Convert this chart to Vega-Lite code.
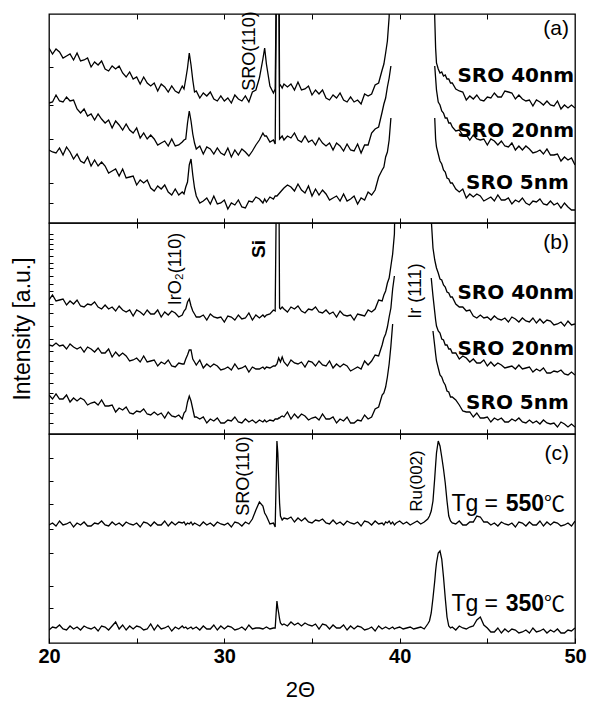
{
  "$schema": "https://vega.github.io/schema/vega-lite/v6.json",
  "padding": {"left": 10, "top": 10, "right": 12, "bottom": 1},
  "background": "white",
  "config": {
    "font": "Liberation Sans",
    "view": {"stroke": "black", "strokeWidth": 1.3},
    "axis": {"domain": false, "grid": false, "tickColor": "black", "tickWidth": 1, "labelColor": "black", "titleColor": "black"}
  },
  "datasets": {
    "spectra": [
      {"x":20.0,"a40":175,"a20":120,"a5":73,"b40":134,"b20":89,"b5":39,"c550":118,"c350":13},
      {"x":20.2,"a40":169,"a20":121,"a5":71,"b40":139,"b20":88,"b5":35,"c550":120,"c350":16},
      {"x":20.4,"a40":174,"a20":128,"a5":70,"b40":133,"b20":91,"b5":40,"c550":117,"c350":15},
      {"x":20.6,"a40":171,"a20":122,"a5":75,"b40":134,"b20":88,"b5":35,"c550":122,"c350":18},
      {"x":20.8,"a40":165,"a20":121,"a5":68,"b40":135,"b20":89,"b5":35,"c550":118,"c350":14},
      {"x":21.0,"a40":167,"a20":126,"a5":76,"b40":129,"b20":85,"b5":39,"c550":119,"c350":13},
      {"x":21.2,"a40":169,"a20":122,"a5":71,"b40":133,"b20":90,"b5":32,"c550":121,"c350":17},
      {"x":21.4,"a40":163,"a20":123,"a5":64,"b40":130,"b20":87,"b5":36,"c550":116,"c350":14},
      {"x":21.6,"a40":170,"a20":114,"a5":69,"b40":134,"b20":85,"b5":33,"c550":120,"c350":16},
      {"x":21.8,"a40":162,"a20":110,"a5":62,"b40":128,"b20":87,"b5":36,"c550":118,"c350":13},
      {"x":22.0,"a40":163,"a20":114,"a5":60,"b40":127,"b20":82,"b5":34,"c550":121,"c350":17},
      {"x":22.2,"a40":165,"a20":107,"a5":66,"b40":130,"b20":87,"b5":29,"c550":117,"c350":15},
      {"x":22.4,"a40":156,"a20":109,"a5":57,"b40":129,"b20":85,"b5":31,"c550":117,"c350":14},
      {"x":22.6,"a40":161,"a20":103,"a5":63,"b40":132,"b20":82,"b5":32,"c550":120,"c350":16},
      {"x":22.8,"a40":158,"a20":109,"a5":57,"b40":127,"b20":86,"b5":29,"c550":119,"c350":12},
      {"x":23.0,"a40":162,"a20":104,"a5":61,"b40":125,"b20":81,"b5":34,"c550":122,"c350":17},
      {"x":23.2,"a40":154,"a20":100,"a5":57,"b40":129,"b20":81,"b5":28,"c550":118,"c350":16},
      {"x":23.4,"a40":152,"a20":103,"a5":50,"b40":125,"b20":85,"b5":28,"c550":117,"c350":13},
      {"x":23.6,"a40":157,"a20":95,"a5":52,"b40":127,"b20":77,"b5":29,"c550":121,"c350":17},
      {"x":23.8,"a40":154,"a20":102,"a5":54,"b40":123,"b20":82,"b5":22,"c550":118,"c350":21},
      {"x":24.0,"a40":157,"a20":98,"a5":47,"b40":128,"b20":78,"b5":26,"c550":120,"c350":14},
      {"x":24.2,"a40":150,"a20":93,"a5":54,"b40":124,"b20":81,"b5":24,"c550":117,"c350":18},
      {"x":24.4,"a40":146,"a20":99,"a5":45,"b40":122,"b20":78,"b5":27,"c550":121,"c350":13},
      {"x":24.6,"a40":151,"a20":93,"a5":46,"b40":124,"b20":73,"b5":21,"c550":119,"c350":17},
      {"x":24.8,"a40":144,"a20":90,"a5":47,"b40":118,"b20":74,"b5":20,"c550":118,"c350":14},
      {"x":25.0,"a40":146,"a20":95,"a5":38,"b40":124,"b20":76,"b5":23,"c550":120,"c350":17},
      {"x":25.2,"a40":139,"a20":85,"a5":43,"b40":122,"b20":72,"b5":22,"c550":116,"c350":16},
      {"x":25.4,"a40":146,"a20":90,"a5":40,"b40":119,"b20":78,"b5":25,"c550":121,"c350":13},
      {"x":25.6,"a40":140,"a20":84,"a5":43,"b40":124,"b20":72,"b5":20,"c550":120,"c350":14},
      {"x":25.8,"a40":137,"a20":88,"a5":35,"b40":120,"b20":73,"b5":19,"c550":117,"c350":19},
      {"x":26.0,"a40":140,"a20":84,"a5":32,"b40":120,"b20":74,"b5":22,"c550":121,"c350":13},
      {"x":26.2,"a40":132,"a20":78,"a5":37,"b40":124,"b20":68,"b5":19,"c550":118,"c350":18},
      {"x":26.4,"a40":139,"a20":80,"a5":34,"b40":117,"b20":72,"b5":21,"c550":118,"c350":14},
      {"x":26.6,"a40":136,"a20":82,"a5":38,"b40":122,"b20":70,"b5":16,"c550":122,"c350":15},
      {"x":26.8,"a40":131,"a20":77,"a5":31,"b40":119,"b20":74,"b5":22,"c550":117,"c350":17},
      {"x":27.0,"a40":137,"a20":84,"a5":28,"b40":123,"b20":68,"b5":18,"c550":121,"c350":12},
      {"x":27.2,"a40":132,"a20":77,"a5":34,"b40":121,"b20":67,"b5":17,"c550":118,"c350":16},
      {"x":27.4,"a40":130,"a20":78,"a5":28,"b40":117,"b20":71,"b5":19,"c550":121,"c350":14},
      {"x":27.6,"a40":137,"a20":81,"a5":31,"b40":119,"b20":70,"b5":15,"c550":120,"c350":17},
      {"x":27.7,"a40":134,"a20":83,"a5":29,"b40":123,"b20":70,"b5":21,"c550":121,"c350":15},
      {"x":27.8,"a40":144,"a20":84,"a5":36,"b40":125,"b20":75,"b5":23,"c550":118,"c350":16},
      {"x":27.9,"a40":155,"a20":100,"a5":41,"b40":132,"b20":79,"b5":32,"c550":120,"c350":14},
      {"x":28.0,"a40":170,"a20":112,"a5":58,"b40":135,"b20":84,"b5":38,"c550":119,"c350":15},
      {"x":28.1,"a40":158,"a20":102,"a5":64,"b40":128,"b20":84,"b5":33,"c550":121,"c350":16},
      {"x":28.2,"a40":143,"a20":89,"a5":48,"b40":123,"b20":75,"b5":25,"c550":118,"c350":14},
      {"x":28.3,"a40":131,"a20":80,"a5":35,"b40":120,"b20":72,"b5":17,"c550":120,"c350":15},
      {"x":28.4,"a40":132,"a20":74,"a5":27,"b40":117,"b20":69,"b5":17,"c550":119,"c350":16},
      {"x":28.6,"a40":125,"a20":77,"a5":20,"b40":117,"b20":74,"b5":15,"c550":117,"c350":13},
      {"x":28.8,"a40":130,"a20":69,"a5":22,"b40":119,"b20":66,"b5":17,"c550":121,"c350":17},
      {"x":29.0,"a40":127,"a20":76,"a5":25,"b40":114,"b20":70,"b5":11,"c550":118,"c350":14},
      {"x":29.2,"a40":131,"a20":74,"a5":19,"b40":120,"b20":67,"b5":15,"c550":120,"c350":14},
      {"x":29.4,"a40":124,"a20":69,"a5":27,"b40":117,"b20":70,"b5":13,"c550":117,"c350":18},
      {"x":29.6,"a40":122,"a20":75,"a5":19,"b40":116,"b20":68,"b5":16,"c550":121,"c350":13},
      {"x":29.8,"a40":127,"a20":70,"a5":20,"b40":117,"b20":64,"b5":11,"c550":119,"c350":17},
      {"x":30.0,"a40":122,"a20":68,"a5":23,"b40":112,"b20":65,"b5":11,"c550":118,"c350":14},
      {"x":30.2,"a40":125,"a20":75,"a5":14,"b40":118,"b20":67,"b5":14,"c550":120,"c350":17},
      {"x":30.4,"a40":120,"a20":66,"a5":20,"b40":117,"b20":64,"b5":13,"c550":116,"c350":16},
      {"x":30.6,"a40":128,"a20":73,"a5":18,"b40":114,"b20":70,"b5":17,"c550":121,"c350":13},
      {"x":30.8,"a40":124,"a20":68,"a5":23,"b40":119,"b20":65,"b5":12,"c550":120,"c350":14},
      {"x":31.0,"a40":122,"a20":74,"a5":16,"b40":115,"b20":66,"b5":11,"c550":117,"c350":16},
      {"x":31.2,"a40":127,"a20":71,"a5":15,"b40":116,"b20":68,"b5":15,"c550":121,"c350":13},
      {"x":31.4,"a40":121,"a20":67,"a5":22,"b40":121,"b20":62,"b5":12,"c550":119,"c350":18},
      {"x":31.6,"a40":131,"a20":72,"a5":21,"b40":114,"b20":67,"b5":14,"c550":124,"c350":14},
      {"x":31.8,"a40":133,"a20":78,"a5":26,"b40":119,"b20":65,"b5":11,"c550":133,"c350":15},
      {"x":32.0,"a40":145,"a20":83,"a5":24,"b40":116,"b20":65,"b5":14,"c550":141,"c350":15},
      {"x":32.2,"a40":164,"a20":90,"a5":20,"b40":119,"b20":67,"b5":12,"c550":137,"c350":14},
      {"x":32.3,"a40":175,"a20":87,"a5":24,"b40":117,"b20":65,"b5":14,"c550":130,"c350":15},
      {"x":32.4,"a40":159,"a20":87,"a5":21,"b40":119,"b20":67,"b5":12,"c550":127,"c350":16},
      {"x":32.6,"a40":137,"a20":81,"a5":26,"b40":120,"b20":66,"b5":14,"c550":119,"c350":14},
      {"x":32.8,"a40":130,"a20":83,"a5":24,"b40":124,"b20":68,"b5":13,"c550":120,"c350":15},
      {"x":32.9,"a40":134,"a20":79,"a5":27,"b40":123,"b20":68,"b5":15,"c550":116,"c350":15},
      {"x":33.0,"a40":300,"a20":300,"a5":27,"b40":300,"b20":70,"b5":15,"c550":202,"c350":42},
      {"x":33.05,"a40":300,"a20":300,"a5":28,"b40":300,"b20":73,"b5":15,"c550":190,"c350":35},
      {"x":33.1,"a40":300,"a20":300,"a5":29,"b40":300,"b20":76,"b5":16,"c550":165,"c350":30},
      {"x":33.15,"a40":137,"a20":84,"a5":30,"b40":126,"b20":74,"b5":16,"c550":140,"c350":24},
      {"x":33.2,"a40":138,"a20":85,"a5":31,"b40":125,"b20":72,"b5":17,"c550":127,"c350":20},
      {"x":33.3,"a40":135,"a20":87,"a5":33,"b40":127,"b20":77,"b5":18,"c550":123,"c350":18},
      {"x":33.4,"a40":139,"a20":83,"a5":35,"b40":125,"b20":72,"b5":17,"c550":125,"c350":19},
      {"x":33.6,"a40":136,"a20":87,"a5":38,"b40":122,"b20":68,"b5":22,"c550":124,"c350":17},
      {"x":33.8,"a40":139,"a20":85,"a5":36,"b40":127,"b20":74,"b5":15,"c550":126,"c350":21},
      {"x":34.0,"a40":133,"a20":90,"a5":32,"b40":125,"b20":71,"b5":20,"c550":121,"c350":18},
      {"x":34.2,"a40":141,"a20":83,"a5":39,"b40":128,"b20":70,"b5":16,"c550":125,"c350":20},
      {"x":34.4,"a40":133,"a20":81,"a5":33,"b40":123,"b20":72,"b5":20,"c550":122,"c350":17},
      {"x":34.6,"a40":134,"a20":87,"a5":30,"b40":121,"b20":67,"b5":18,"c550":125,"c350":20},
      {"x":34.8,"a40":137,"a20":81,"a5":37,"b40":125,"b20":73,"b5":14,"c550":121,"c350":18},
      {"x":35.0,"a40":128,"a20":83,"a5":27,"b40":124,"b20":72,"b5":16,"c550":120,"c350":17},
      {"x":35.2,"a40":133,"a20":78,"a5":34,"b40":127,"b20":68,"b5":17,"c550":123,"c350":19},
      {"x":35.4,"a40":129,"a20":85,"a5":28,"b40":122,"b20":73,"b5":14,"c550":122,"c350":14},
      {"x":35.6,"a40":133,"a20":80,"a5":33,"b40":121,"b20":69,"b5":20,"c550":124,"c350":19},
      {"x":35.8,"a40":125,"a20":77,"a5":29,"b40":124,"b20":68,"b5":15,"c550":120,"c350":18},
      {"x":36.0,"a40":123,"a20":80,"a5":23,"b40":120,"b20":73,"b5":15,"c550":119,"c350":14},
      {"x":36.2,"a40":128,"a20":73,"a5":25,"b40":122,"b20":66,"b5":17,"c550":123,"c350":18},
      {"x":36.4,"a40":125,"a20":80,"a5":27,"b40":117,"b20":70,"b5":11,"c550":119,"c350":15},
      {"x":36.6,"a40":130,"a20":77,"a5":22,"b40":123,"b20":67,"b5":15,"c550":121,"c350":15},
      {"x":36.8,"a40":123,"a20":72,"a5":29,"b40":119,"b20":70,"b5":13,"c550":118,"c350":18},
      {"x":37.0,"a40":121,"a20":79,"a5":22,"b40":118,"b20":68,"b5":17,"c550":122,"c350":13},
      {"x":37.2,"a40":126,"a20":73,"a5":24,"b40":119,"b20":63,"b5":11,"c550":120,"c350":17},
      {"x":37.4,"a40":121,"a20":72,"a5":27,"b40":114,"b20":65,"b5":11,"c550":119,"c350":14},
      {"x":37.6,"a40":123,"a20":79,"a5":19,"b40":120,"b20":67,"b5":14,"c550":121,"c350":17},
      {"x":37.8,"a40":119,"a20":70,"a5":25,"b40":119,"b20":65,"b5":13,"c550":117,"c350":16},
      {"x":38.0,"a40":129,"a20":78,"a5":23,"b40":118,"b20":73,"b5":19,"c550":122,"c350":13},
      {"x":38.2,"a40":127,"a20":78,"a5":31,"b40":124,"b20":69,"b5":15,"c550":121,"c350":14},
      {"x":38.4,"a40":129,"a20":90,"a5":28,"b40":122,"b20":73,"b5":17,"c550":118,"c350":16},
      {"x":38.6,"a40":138,"a20":94,"a5":33,"b40":125,"b20":79,"b5":25,"c550":122,"c350":12},
      {"x":38.8,"a40":140,"a20":96,"a5":46,"b40":134,"b20":78,"b5":27,"c550":119,"c350":17},
      {"x":39.0,"a40":153,"a20":111,"a5":53,"b40":133,"b20":89,"b5":39,"c550":120,"c350":14},
      {"x":39.1,"a40":159,"a20":119,"a5":56,"b40":139,"b20":96,"b5":41,"c550":118,"c350":15},
      {"x":39.2,"a40":170,"a20":125,"a5":66,"b40":143,"b20":100,"b5":47,"c550":121,"c350":16},
      {"x":39.3,"a40":182,"a20":136,"a5":71,"b40":151,"b20":107,"b5":57,"c550":120,"c350":15},
      {"x":39.4,"a40":206,"a20":145,"a5":83,"b40":156,"b20":117,"b5":70,"c550":122,"c350":14},
      {"x":39.5,"a40":300,"a20":157,"a5":105,"b40":168,"b20":126,"b5":88,"c550":119,"c350":15},
      {"x":39.6,"a40":300,"a20":null,"a5":null,"b40":180,"b20":145,"b5":110,"c550":121,"c350":16},
      {"x":39.7,"a40":300,"a20":null,"a5":null,"b40":200,"b20":158,"b5":null,"c550":118,"c350":14},
      {"x":39.8,"a40":300,"a20":null,"a5":null,"b40":300,"b20":null,"b5":null,"c550":120,"c350":15},
      {"x":40.0,"a40":300,"a20":null,"a5":null,"b40":300,"b20":null,"b5":null,"c550":122,"c350":16},
      {"x":40.2,"a40":300,"a20":null,"a5":null,"b40":300,"b20":null,"b5":null,"c550":119,"c350":14},
      {"x":40.4,"a40":300,"a20":null,"a5":null,"b40":300,"b20":null,"b5":null,"c550":121,"c350":15},
      {"x":40.6,"a40":300,"a20":null,"a5":null,"b40":300,"b20":null,"b5":null,"c550":118,"c350":16},
      {"x":40.8,"a40":300,"a20":null,"a5":null,"b40":300,"b20":null,"b5":null,"c550":120,"c350":14},
      {"x":41.0,"a40":300,"a20":null,"a5":null,"b40":300,"b20":null,"b5":null,"c550":122,"c350":15},
      {"x":41.2,"a40":300,"a20":null,"a5":null,"b40":300,"b20":null,"b5":null,"c550":119,"c350":16},
      {"x":41.4,"a40":300,"a20":null,"a5":null,"b40":300,"b20":null,"b5":null,"c550":121,"c350":14},
      {"x":41.6,"a40":300,"a20":null,"a5":null,"b40":300,"b20":null,"b5":null,"c550":124,"c350":19},
      {"x":41.7,"a40":300,"a20":null,"a5":null,"b40":300,"b20":null,"b5":null,"c550":127,"c350":22},
      {"x":41.8,"a40":300,"a20":null,"a5":null,"b40":215,"b20":156,"b5":null,"c550":132,"c350":30},
      {"x":41.9,"a40":300,"a20":null,"a5":null,"b40":186,"b20":138,"b5":103,"c550":142,"c350":45},
      {"x":42.0,"a40":205,"a20":157,"a5":105,"b40":174,"b20":122,"b5":88,"c550":165,"c350":62},
      {"x":42.05,"a40":175,"a20":145,"a5":84,"b40":170,"b20":114,"b5":80,"c550":178,"c350":72},
      {"x":42.1,"a40":160,"a20":133,"a5":76,"b40":166,"b20":108,"b5":73,"c550":190,"c350":80},
      {"x":42.2,"a40":154,"a20":121,"a5":69,"b40":161,"b20":103,"b5":66,"c550":202,"c350":90},
      {"x":42.3,"a40":150,"a20":118,"a5":62,"b40":155,"b20":101,"b5":59,"c550":197,"c350":92},
      {"x":42.4,"a40":151,"a20":112,"a5":59,"b40":154,"b20":95,"b5":57,"c550":186,"c350":84},
      {"x":42.5,"a40":147,"a20":110,"a5":53,"b40":149,"b20":94,"b5":52,"c550":174,"c350":66},
      {"x":42.6,"a40":148,"a20":105,"a5":51,"b40":147,"b20":89,"b5":49,"c550":160,"c350":45},
      {"x":42.7,"a40":144,"a20":105,"a5":45,"b40":142,"b20":89,"b5":43,"c550":142,"c350":26},
      {"x":42.8,"a40":144,"a20":100,"a5":44,"b40":141,"b20":85,"b5":42,"c550":127,"c350":17},
      {"x":42.9,"a40":140,"a20":100,"a5":40,"b40":137,"b20":85,"b5":37,"c550":122,"c350":15},
      {"x":43.0,"a40":140,"a20":96,"a5":40,"b40":137,"b20":81,"b5":37,"c550":120,"c350":16},
      {"x":43.2,"a40":134,"a20":92,"a5":34,"b40":130,"b20":81,"b5":34,"c550":119,"c350":13},
      {"x":43.4,"a40":132,"a20":93,"a5":31,"b40":127,"b20":75,"b5":29,"c550":122,"c350":17},
      {"x":43.6,"a40":131,"a20":88,"a5":34,"b40":127,"b20":78,"b5":23,"c550":118,"c350":15},
      {"x":43.8,"a40":123,"a20":88,"a5":25,"b40":123,"b20":76,"b5":22,"c550":118,"c350":14},
      {"x":44.0,"a40":127,"a20":83,"a5":29,"b40":124,"b20":72,"b5":22,"c550":121,"c350":16},
      {"x":44.2,"a40":124,"a20":88,"a5":26,"b40":118,"b20":75,"b5":17,"c550":121,"c350":17},
      {"x":44.4,"a40":128,"a20":84,"a5":29,"b40":116,"b20":71,"b5":21,"c550":127,"c350":23},
      {"x":44.6,"a40":123,"a20":83,"a5":27,"b40":119,"b20":71,"b5":16,"c550":126,"c350":26},
      {"x":44.8,"a40":122,"a20":84,"a5":22,"b40":116,"b20":74,"b5":16,"c550":121,"c350":18},
      {"x":45.0,"a40":126,"a20":78,"a5":24,"b40":117,"b20":68,"b5":17,"c550":121,"c350":15},
      {"x":45.2,"a40":125,"a20":84,"a5":26,"b40":114,"b20":72,"b5":12,"c550":118,"c350":11},
      {"x":45.4,"a40":130,"a20":82,"a5":22,"b40":118,"b20":68,"b5":16,"c550":120,"c350":11},
      {"x":45.6,"a40":126,"a20":78,"a5":28,"b40":115,"b20":71,"b5":14,"c550":117,"c350":15},
      {"x":45.8,"a40":126,"a20":82,"a5":23,"b40":114,"b20":69,"b5":16,"c550":121,"c350":10},
      {"x":46.0,"a40":132,"a20":77,"a5":23,"b40":116,"b20":66,"b5":12,"c550":119,"c350":14},
      {"x":46.2,"a40":131,"a20":76,"a5":25,"b40":112,"b20":67,"b5":12,"c550":118,"c350":11},
      {"x":46.4,"a40":130,"a20":80,"a5":19,"b40":117,"b20":68,"b5":15,"c550":120,"c350":14},
      {"x":46.6,"a40":124,"a20":73,"a5":23,"b40":115,"b20":65,"b5":13,"c550":116,"c350":13},
      {"x":46.8,"a40":128,"a20":77,"a5":21,"b40":112,"b20":69,"b5":16,"c550":121,"c350":10},
      {"x":47.0,"a40":124,"a20":73,"a5":25,"b40":116,"b20":65,"b5":12,"c550":120,"c350":11},
      {"x":47.2,"a40":122,"a20":77,"a5":20,"b40":113,"b20":66,"b5":11,"c550":117,"c350":13},
      {"x":47.4,"a40":123,"a20":74,"a5":18,"b40":112,"b20":67,"b5":14,"c550":121,"c350":10},
      {"x":47.6,"a40":117,"a20":70,"a5":22,"b40":116,"b20":62,"b5":11,"c550":118,"c350":15},
      {"x":47.8,"a40":123,"a20":71,"a5":21,"b40":111,"b20":65,"b5":13,"c550":118,"c350":11},
      {"x":48.0,"a40":121,"a20":73,"a5":24,"b40":115,"b20":63,"b5":10,"c550":122,"c350":12},
      {"x":48.2,"a40":118,"a20":69,"a5":19,"b40":111,"b20":66,"b5":14,"c550":117,"c350":14},
      {"x":48.4,"a40":122,"a20":74,"a5":18,"b40":114,"b20":61,"b5":11,"c550":121,"c350":10},
      {"x":48.6,"a40":118,"a20":68,"a5":22,"b40":113,"b20":61,"b5":10,"c550":118,"c350":13},
      {"x":48.8,"a40":117,"a20":68,"a5":18,"b40":109,"b20":63,"b5":11,"c550":121,"c350":11},
      {"x":49.0,"a40":122,"a20":69,"a5":20,"b40":110,"b20":62,"b5":7,"c550":120,"c350":14},
      {"x":49.2,"a40":114,"a20":62,"a5":15,"b40":112,"b20":64,"b5":12,"c550":117,"c350":10},
      {"x":49.4,"a40":118,"a20":66,"a5":20,"b40":108,"b20":60,"b5":10,"c550":118,"c350":10},
      {"x":49.6,"a40":115,"a20":63,"a5":16,"b40":113,"b20":59,"b5":7,"c550":120,"c350":13},
      {"x":49.8,"a40":118,"a20":65,"a5":13,"b40":109,"b20":62,"b5":10,"c550":117,"c350":12},
      {"x":50.0,"a40":115,"a20":58,"a5":13,"b40":110,"b20":59,"b5":7,"c550":122,"c350":15}
    ],
    "labels": [
      {"panel":"a","kind":"tag","x":49.66,"y":194,"text":"(a)"},
      {"panel":"a","kind":"name","x":49.95,"y":147,"text":"SRO 40nm"},
      {"panel":"a","kind":"name","x":49.95,"y":92,"text":"SRO 20nm"},
      {"panel":"a","kind":"name","x":49.65,"y":40,"text":"SRO 5nm"},
      {"panel":"a","kind":"peak","x":31.45,"y":172,"text":"SRO(110)"},
      {"panel":"b","kind":"tag","x":49.66,"y":191,"text":"(b)"},
      {"panel":"b","kind":"name","x":49.95,"y":141,"text":"SRO 40nm"},
      {"panel":"b","kind":"name","x":49.95,"y":85,"text":"SRO 20nm"},
      {"panel":"b","kind":"name","x":49.65,"y":31,"text":"SRO 5nm"},
      {"panel":"b","kind":"peak","x":27.25,"y":165,"text":"IrO₂(110)"},
      {"panel":"b","kind":"peak","x":40.94,"y":143,"text":"Ir (111)"},
      {"panel":"b","kind":"si","x":31.98,"y":185,"text":"Si"},
      {"panel":"c","kind":"tag","x":49.66,"y":189,"text":"(c)"},
      {"panel":"c","kind":"peak","x":31.1,"y":167,"text":"SRO(110)"},
      {"panel":"c","kind":"ru","x":41.0,"y":162,"text":"Ru(002)"},
      {"panel":"c","kind":"tg","x":42.95,"y":132,"text":"Tg ="},
      {"panel":"c","kind":"tg","x":42.95,"y":32,"text":"Tg ="},
      {"panel":"c","kind":"tgn","x":46.05,"y":132,"text":"550"},
      {"panel":"c","kind":"tgn","x":46.05,"y":32,"text":"350"},
      {"panel":"c","kind":"deg","x":48.23,"y":132,"text":"℃"},
      {"panel":"c","kind":"deg","x":48.23,"y":32,"text":"℃"}
    ]
  },
  "spacing": 0,
  "bounds": "flush",
  "vconcat": [
    {
      "width": 526,
      "height": 209,
      "resolve": {"axis": {"x": "independent", "y": "independent"}},
      "layer": [
        {
          "data": {"name": "spectra"},
          "transform": [{"fold": ["a40", "a20", "a5"], "as": ["s", "y"]}],
          "mark": {"type": "line", "clip": true, "color": "black", "strokeWidth": 1.3, "invalid": "break-paths-show-domains"},
          "encoding": {
            "x": {"field": "x", "type": "quantitative", "scale": {"domain": [20, 50], "nice": false},
                  "axis": {"orient": "bottom", "values": [25, 30, 35, 40, 45], "tickSize": -5, "labels": false, "title": null}},
            "y": {"field": "y", "type": "quantitative", "scale": {"domain": [0, 209], "nice": false},
                  "axis": {"orient": "left", "values": [20, 40, 84, 118, 156], "tickSize": -4, "labels": false, "title": null}},
            "detail": {"field": "s"}
          }
        },
        {
          "data": {"name": "labels"},
          "transform": [{"filter": "datum.panel === 'a' && datum.kind === 'tag'"}],
          "mark": {"type": "text", "fontSize": 21, "align": "right", "baseline": "middle", "color": "black"},
          "encoding": {
            "x": {"field": "x", "type": "quantitative", "axis": {"orient": "top", "values": [25, 30, 35, 40, 45], "tickSize": -5, "labels": false, "title": null}},
            "y": {"field": "y", "type": "quantitative", "axis": null},
            "text": {"field": "text"}
          }
        },
        {
          "data": {"name": "labels"},
          "transform": [{"filter": "datum.panel === 'a' && datum.kind === 'name'"}],
          "mark": {"type": "text", "font": "DejaVu Sans", "fontWeight": "bold", "fontSize": 20, "align": "right", "baseline": "middle", "color": "black"},
          "encoding": {
            "x": {"field": "x", "type": "quantitative", "axis": null},
            "y": {"field": "y", "type": "quantitative", "axis": null},
            "text": {"field": "text"}
          }
        },
        {
          "data": {"name": "labels"},
          "transform": [{"filter": "datum.panel === 'a' && datum.kind === 'peak'"}],
          "mark": {"type": "text", "fontSize": 18, "angle": 270, "align": "center", "baseline": "middle", "color": "black"},
          "encoding": {
            "x": {"field": "x", "type": "quantitative", "axis": null},
            "y": {"field": "y", "type": "quantitative", "axis": null},
            "text": {"field": "text"}
          }
        }
      ]
    },
    {
      "width": 526,
      "height": 211,
      "resolve": {"axis": {"x": "independent", "y": "independent"}},
      "layer": [
        {
          "data": {"name": "spectra"},
          "transform": [{"fold": ["b40", "b20", "b5"], "as": ["s", "y"]}],
          "mark": {"type": "line", "clip": true, "color": "black", "strokeWidth": 1.3, "invalid": "break-paths-show-domains"},
          "encoding": {
            "x": {"field": "x", "type": "quantitative", "scale": {"domain": [20, 50], "nice": false},
                  "axis": {"orient": "bottom", "values": [25, 30, 35, 40, 45], "tickSize": -5, "labels": false, "title": null}},
            "y": {"field": "y", "type": "quantitative", "scale": {"domain": [0, 211], "nice": false},
                  "axis": {"orient": "left", "values": [200, 195, 190, 185, 178, 171, 166, 158, 150, 143, 130, 121, 108, 95, 83, 73, 61, 51, 41, 31, 21, 11],
                           "tickSize": -4, "labels": false, "title": "Intensity [a.u.]", "titleFontSize": 23, "titleFontWeight": "normal", "titleX": -15, "titleBaseline": "bottom"}},
            "detail": {"field": "s"}
          }
        },
        {
          "data": {"name": "labels"},
          "transform": [{"filter": "datum.panel === 'b' && datum.kind === 'tag'"}],
          "mark": {"type": "text", "fontSize": 21, "align": "right", "baseline": "middle", "color": "black"},
          "encoding": {
            "x": {"field": "x", "type": "quantitative", "axis": {"orient": "top", "values": [25, 30, 35, 40, 45], "tickSize": -5, "labels": false, "title": null}},
            "y": {"field": "y", "type": "quantitative", "axis": null},
            "text": {"field": "text"}
          }
        },
        {
          "data": {"name": "labels"},
          "transform": [{"filter": "datum.panel === 'b' && datum.kind === 'name'"}],
          "mark": {"type": "text", "font": "DejaVu Sans", "fontWeight": "bold", "fontSize": 20, "align": "right", "baseline": "middle", "color": "black"},
          "encoding": {
            "x": {"field": "x", "type": "quantitative", "axis": null},
            "y": {"field": "y", "type": "quantitative", "axis": null},
            "text": {"field": "text"}
          }
        },
        {
          "data": {"name": "labels"},
          "transform": [{"filter": "datum.panel === 'b' && datum.kind === 'peak'"}],
          "mark": {"type": "text", "fontSize": 18, "angle": 270, "align": "center", "baseline": "middle", "color": "black"},
          "encoding": {
            "x": {"field": "x", "type": "quantitative", "axis": null},
            "y": {"field": "y", "type": "quantitative", "axis": null},
            "text": {"field": "text"}
          }
        },
        {
          "data": {"name": "labels"},
          "transform": [{"filter": "datum.panel === 'b' && datum.kind === 'si'"}],
          "mark": {"type": "text", "fontSize": 19, "fontWeight": "bold", "angle": 270, "align": "center", "baseline": "middle", "color": "black"},
          "encoding": {
            "x": {"field": "x", "type": "quantitative", "axis": null},
            "y": {"field": "y", "type": "quantitative", "axis": null},
            "text": {"field": "text"}
          }
        }
      ]
    },
    {
      "width": 526,
      "height": 209,
      "resolve": {"axis": {"x": "independent", "y": "independent"}},
      "layer": [
        {
          "data": {"name": "spectra"},
          "transform": [{"fold": ["c550", "c350"], "as": ["s", "y"]}],
          "mark": {"type": "line", "clip": true, "color": "black", "strokeWidth": 1.3, "invalid": "break-paths-show-domains"},
          "encoding": {
            "x": {"field": "x", "type": "quantitative", "scale": {"domain": [20, 50], "nice": false},
                  "axis": {"orient": "bottom", "values": [20, 25, 30, 35, 40, 45, 50], "tickSize": -5, "labelExpr": "datum.value % 10 === 0 ? datum.label : ''",
                           "labelFontSize": 20, "labelFontWeight": "bold", "labelPadding": 8.5, "labelOverlap": false, "labelFlush": false,
                           "title": "2Θ", "titleFontSize": 22, "titleFontWeight": "normal", "titleX": 251, "titleY": 36, "titleBaseline": "top"}},
            "y": {"field": "y", "type": "quantitative", "scale": {"domain": [0, 209], "nice": false},
                  "axis": {"orient": "left", "values": [185, 162, 139, 114, 90, 57, 35], "tickSize": -4, "labels": false, "title": null}},
            "detail": {"field": "s"}
          }
        },
        {
          "data": {"name": "labels"},
          "transform": [{"filter": "datum.panel === 'c' && datum.kind === 'tag'"}],
          "mark": {"type": "text", "fontSize": 21, "align": "right", "baseline": "middle", "color": "black"},
          "encoding": {
            "x": {"field": "x", "type": "quantitative", "axis": {"orient": "top", "values": [25, 30, 35, 40, 45], "tickSize": -5, "labels": false, "title": null}},
            "y": {"field": "y", "type": "quantitative", "axis": null},
            "text": {"field": "text"}
          }
        },
        {
          "data": {"name": "labels"},
          "transform": [{"filter": "datum.panel === 'c' && datum.kind === 'peak'"}],
          "mark": {"type": "text", "fontSize": 18, "angle": 270, "align": "center", "baseline": "middle", "color": "black"},
          "encoding": {
            "x": {"field": "x", "type": "quantitative", "axis": null},
            "y": {"field": "y", "type": "quantitative", "axis": null},
            "text": {"field": "text"}
          }
        },
        {
          "data": {"name": "labels"},
          "transform": [{"filter": "datum.panel === 'c' && datum.kind === 'ru'"}],
          "mark": {"type": "text", "fontSize": 17, "angle": 270, "align": "center", "baseline": "middle", "color": "black"},
          "encoding": {
            "x": {"field": "x", "type": "quantitative", "axis": null},
            "y": {"field": "y", "type": "quantitative", "axis": null},
            "text": {"field": "text"}
          }
        },
        {
          "data": {"name": "labels"},
          "transform": [{"filter": "datum.panel === 'c' && datum.kind === 'tg'"}],
          "mark": {"type": "text", "fontSize": 23, "align": "left", "baseline": "alphabetic", "color": "black"},
          "encoding": {
            "x": {"field": "x", "type": "quantitative", "axis": null},
            "y": {"field": "y", "type": "quantitative", "axis": null},
            "text": {"field": "text"}
          }
        },
        {
          "data": {"name": "labels"},
          "transform": [{"filter": "datum.panel === 'c' && datum.kind === 'tgn'"}],
          "mark": {"type": "text", "fontSize": 23, "fontWeight": "bold", "align": "left", "baseline": "alphabetic", "color": "black"},
          "encoding": {
            "x": {"field": "x", "type": "quantitative", "axis": null},
            "y": {"field": "y", "type": "quantitative", "axis": null},
            "text": {"field": "text"}
          }
        },
        {
          "data": {"name": "labels"},
          "transform": [{"filter": "datum.panel === 'c' && datum.kind === 'deg'"}],
          "mark": {"type": "text", "font": "Noto Sans CJK SC", "fontSize": 21, "align": "left", "baseline": "alphabetic", "color": "black"},
          "encoding": {
            "x": {"field": "x", "type": "quantitative", "axis": null},
            "y": {"field": "y", "type": "quantitative", "axis": null},
            "text": {"field": "text"}
          }
        }
      ]
    }
  ]
}
